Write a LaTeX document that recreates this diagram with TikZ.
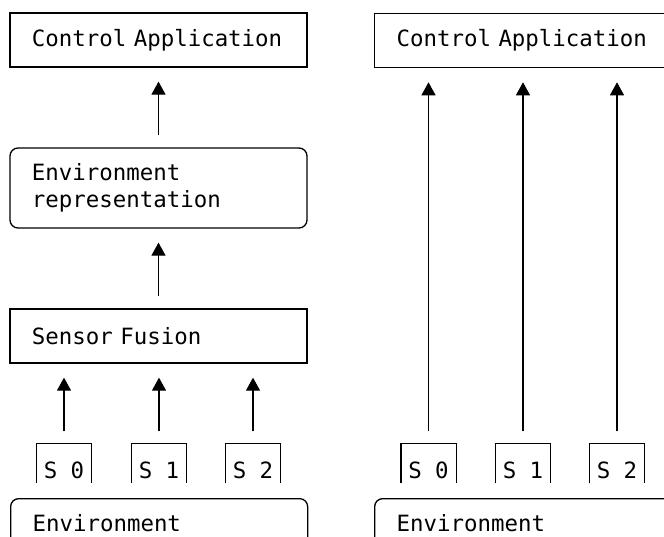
\documentclass[tikz,border=0pt]{standalone}
\usepackage{fontspec}
\setmonofont{DejaVu Sans Mono}
\setmainfont{DejaVu Sans Mono}
\usetikzlibrary{arrows.meta}
\newcommand\diagfont{\ttfamily\fontsize{11.2pt}{13.6pt}\selectfont}
\begin{document}
\begin{tikzpicture}[x=0.5pt,y=-0.5pt,
  font=\diagfont,
  line width=0.65pt,
  box/.style={draw, rectangle, inner xsep=11pt, inner ysep=0pt, text width=126.5pt, align=left, minimum height=27pt},
  rbox/.style={box, rounded corners=4pt},
  envbox/.style={draw, rectangle, rounded corners=4pt, inner xsep=11pt, inner ysep=8pt, text width=126.5pt, align=left, anchor=north west},
  sensor/.style={rectangle, inner sep=0pt, minimum width=27pt, minimum height=26pt},
  flow/.style={-{Triangle[width=7pt,length=6.5pt]}, shorten <=6pt, shorten >=7pt}
]
\useasboundingbox (0,0) rectangle (664,536);
\clip (0,0) rectangle (664,536);

% left column
\node[box] (ca1) at (158.5,40) {Control Application};
\node[rbox, minimum height=40pt] (er) at (158.5,188) {Environment\\representation};
\node[box] (sf) at (158.5,336) {Sensor Fusion};
\node[sensor] (ls0) at (64,470) {S 0};
\node[sensor] (ls1) at (159,470) {S 1};
\node[sensor] (ls2) at (253,470) {S 2};
\node[envbox] (env1) at (10,498) {Environment};

\foreach \s in {ls0,ls1,ls2}{
  \draw ([yshift=-20pt]\s.north west) -- (\s.north west) -- (\s.north east) -- ([yshift=-20pt]\s.north east);
}
\draw[flow] (er) -- (ca1);
\draw[flow] (sf) -- (er);
\draw[flow] (ls0) -- (ls0 |- sf.south);
\draw[flow] (ls1) -- (ls1 |- sf.south);
\draw[flow] (ls2) -- (ls2 |- sf.south);

% right column
\node[box, anchor=north west] (ca2) at (374,13) {Control Application};
\node[sensor] (rs0) at (428.5,470) {S 0};
\node[sensor] (rs1) at (523,470) {S 1};
\node[sensor] (rs2) at (617,470) {S 2};
\node[envbox] (env2) at (374,498) {Environment};

\foreach \s in {rs0,rs1,rs2}{
  \draw ([yshift=-20pt]\s.north west) -- (\s.north west) -- (\s.north east) -- ([yshift=-20pt]\s.north east);
}
\draw[flow] (rs0.north) -- (rs0 |- ca2.south);
\draw[flow] (rs1.north) -- (rs1 |- ca2.south);
\draw[flow] (rs2.north) -- (rs2 |- ca2.south);
\end{tikzpicture}
\end{document}
